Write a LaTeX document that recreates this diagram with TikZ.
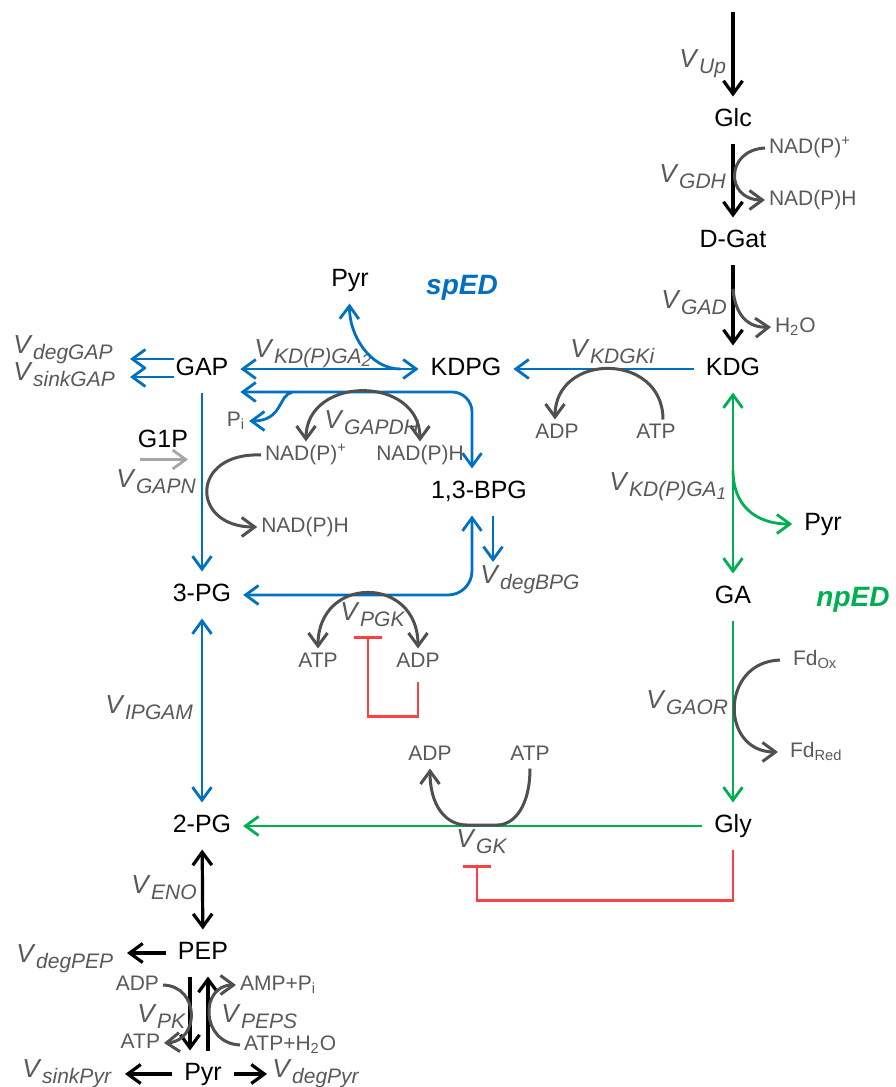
\documentclass[tikz,border=0pt]{standalone}
\usepackage{fontspec}
\setmainfont{Liberation Sans}
\usetikzlibrary{arrows.meta,calc}

\definecolor{edblue}{RGB}{0,112,192}
\definecolor{edgreen}{RGB}{0,176,80}
\definecolor{inhred}{RGB}{255,64,64}
\definecolor{labgray}{RGB}{89,89,89}
\definecolor{arcgray}{RGB}{80,80,80}
\definecolor{ligray}{RGB}{166,166,166}

\newcommand{\vrate}[1]{\textit{V}\kern0.2pt\raisebox{-3pt}{\fontsize{10.5}{12}\selectfont\itshape #1}}
\newcommand{\subnum}[1]{\raisebox{-1.5pt}{\fontsize{8.5}{9}\selectfont #1}}

\begin{document}
\begin{tikzpicture}[
x=0.5pt, y=-0.5pt,
species/.style={font=\fontsize{12.5}{14}\selectfont, text height=9pt, text depth=2.5pt, inner sep=0pt, outer sep=6pt},
cofac/.style={font=\fontsize{10.5}{12}\selectfont, text=labgray, text height=7.5pt, text depth=2pt, inner sep=0pt, outer sep=2pt},
rate/.style={font=\fontsize{13}{14}\selectfont, text=labgray, inner sep=0pt, anchor=base west},
pathname/.style={font=\fontsize{14}{16}\selectfont\bfseries\itshape},
onehead/.style={-{Straight Barb[length=6.5pt,width=9.5pt]}},
twohead/.style={{Straight Barb[length=6.5pt,width=9.5pt]}-{Straight Barb[length=6.5pt,width=9.5pt]}},
blk/.style={line width=1.6pt, black},
blu/.style={line width=1.4pt, edblue},
grn/.style={line width=1.4pt, edgreen},
lgry/.style={line width=1.4pt, ligray},
cof/.style={line width=1.5pt, arcgray},
inh/.style={line width=1.4pt, inhred, -{Bar[width=14pt]}}
]
\useasboundingbox (0,0) rectangle (895,1087);

\node[species] (glc) at (733,120) {Glc};
\node[species] (dgat) at (733,241) {D-Gat};
\node[species] (kdg) at (733,369) {KDG};
\node[species] (ga) at (733,597) {GA};
\node[species] (gly) at (733,826) {Gly};
\node[species] (pyrnp) at (823,524) {Pyr};
\node[species] (kdpg) at (466,369) {KDPG};
\node[species] (pyrsp) at (350,280) {Pyr};
\node[species] (gap) at (202,369) {GAP};
\node[species] (bpg) at (479,492) {1,3-BPG};
\node[species] (pg3) at (202,595) {3-PG};
\node[species] (pg2) at (202,826) {2-PG};
\node[species] (pep) at (203,953) {PEP};
\node[species] (pyr) at (203,1074) {Pyr};
\node[species] (g1p) at (163,441) {G1P};

\node[pathname, text=edblue] (sped) at (462,288) {spED};
\node[pathname, text=edgreen] (nped) at (853,600) {npED};

\node[cofac, anchor=west] (nadpG) at (765,148) {NAD(P)\textsuperscript{+}};
\node[cofac, anchor=west] (nadphG) at (765,200) {NAD(P)H};
\node[cofac, anchor=west] (h2o) at (771,327) {H\textsubscript{2}O};
\node[cofac] (adpK) at (557,433) {ADP};
\node[cofac] (atpK) at (656,433) {ATP};
\node[cofac] (pi) at (236,421) {P\textsubscript{i}};
\node[cofac] (nadpM) at (306,455) {NAD(P)\textsuperscript{+}};
\node[cofac] (nadphM) at (420,455) {NAD(P)H};
\node[cofac] (nadphN) at (305,527) {NAD(P)H};
\node[cofac] (atpP) at (318,662) {ATP};
\node[cofac] (adpP) at (418,662) {ADP};
\node[cofac] (adpG) at (430,755) {ADP};
\node[cofac] (atpG) at (530,755) {ATP};
\node[cofac, anchor=west] (fdox) at (789,660) {Fd\textsubscript{Ox}};
\node[cofac, anchor=west] (fdred) at (786,752) {Fd\textsubscript{Red}};
\node[cofac, anchor=east] (adpPK) at (163,985) {ADP};
\node[cofac, anchor=east] (atpPK) at (164,1043) {ATP};
\node[cofac, anchor=west] (ampPEPS) at (236,985) {AMP+P\textsubscript{i}};
\node[cofac, anchor=west] (atpPEPS) at (240,1045) {ATP+H\textsubscript{2}O};

\node[rate] (vup) at (679,67) {\vrate{Up}};
\node[rate] (vgdh) at (659,182) {\vrate{GDH}};
\node[rate] (vgad) at (661,308) {\vrate{GAD}};
\node[rate] (vkdgk) at (570,357) {\vrate{KDGKi}};
\node[rate] (vkdga1) at (609,490) {\vrate{KD(P)GA\subnum{1}}};
\node[rate] (vkdga2) at (254,357) {\vrate{KD(P)GA\subnum{2}}};
\node[rate] (vgapdh) at (324,428) {\vrate{GAPDH}};
\node[rate] (vdeggap) at (13,353) {\vrate{degGAP}};
\node[rate] (vsinkgap) at (13,380) {\vrate{sinkGAP}};
\node[rate] (vgapn) at (116,487) {\vrate{GAPN}};
\node[rate] (vdegbpg) at (480,583) {\vrate{degBPG}};
\node[rate] (vpgk) at (340,620) {\vrate{PGK}};
\node[rate] (vipgam) at (105,713) {\vrate{IPGAM}};
\node[rate] (vgaor) at (646,708) {\vrate{GAOR}};
\node[rate] (vgk) at (456,847) {\vrate{GK}};
\node[rate] (veno) at (131,893) {\vrate{ENO}};
\node[rate] (vdegpep) at (16,962) {\vrate{degPEP}};
\node[rate] (vpk) at (137,1022) {\vrate{PK}};
\node[rate] (vpeps) at (221,1022) {\vrate{PEPS}};
\node[rate] (vsinkpyr) at (22,1077) {\vrate{sinkPyr}};
\node[rate] (vdegpyr) at (272,1077) {\vrate{degPyr}};

\coordinate (glcin) at (733,12);
\coordinate (deggap) at (130,359);
\coordinate (sinkgap) at (130,377);
\coordinate (degbpg) at (493,562);
\coordinate (degpep) at (127,953);
\coordinate (sinkpyr) at (125,1074);
\coordinate (degpyr) at (267,1074);
\coordinate (pgkbar) at (368,636);
\coordinate (gkbar) at (477,865);

\draw[blk,onehead] (glcin) -- (glc);
\draw[blk,onehead] (glc) -- (dgat);
\draw[blk,onehead] (dgat) -- (kdg);
\draw[blu,onehead] (kdg) -- (kdpg);
\draw[blu,twohead] (gap) -- (kdpg);
\draw[grn,twohead] (kdg) -- (ga);
\draw[grn,onehead] (ga) -- (gly);
\draw[grn,onehead] (gly) -- (pg2);
\draw[blu,onehead] (gap) -- (pg3);
\draw[blu,twohead] (pg3) -- (pg2);
\draw[blk,twohead] (pg2) -- (pep);
\draw[blk,onehead] ($(pep.south)+(-13,0)$) -- ($(pyr.north)+(-13,0)$);
\draw[blk,onehead] ($(pyr.north)+(5,0)$) -- ($(pep.south)+(5,0)$);
\draw[blu,onehead] ($(gap.west)+(10,-10)$) -- (deggap);
\draw[blu,onehead] ($(gap.west)+(10,8)$) -- (sinkgap);
\draw[blk,onehead] (pep) -- (degpep);
\draw[blk,onehead] (pyr) -- (sinkpyr);
\draw[blk,onehead] (pyr) -- (degpyr);
\draw[lgry,onehead] ($(g1p.south)+(-23,-5)$) -- ($(g1p.south)+(25,-5)$);

\draw[blu,twohead,rounded corners=10pt] ($(gap.east)+(0,23)$) -| ($(bpg.north)+(-7,0)$);
\draw[blu,twohead,rounded corners=12pt] ($(bpg.south)+(-7,0)$) |- (pg3);
\draw[blu,onehead] ($(bpg.south)+(14,0)$) -- (degbpg);
\draw[blu,onehead] ($(gap.east)+(52,23)$) .. controls (278,395) and (283,421) .. (pi.east);
\draw[blu,onehead] ($(kdpg.west)+(-18,0)$) .. controls (370,369) and (349,335) .. (pyrsp);
\draw[grn,onehead] ($(kdg.south)!0.43!(ga.north)$) .. controls (733,505) and (755,524) .. (pyrnp);

\draw[cof,onehead] (nadpG.west) .. controls (725,150) and (725,200) .. (nadphG.west);
\draw[cof,onehead] ($(dgat.south)!0.3!(kdg.north)$) .. controls (735,315) and (748,328) .. (h2o.west);
\draw[cof,onehead] ($(atpK.north)+(7,0)$) .. controls (663,352) and (555,352) .. ($(adpK.north)+(-2,0)$);
\draw[cof,twohead] (nadpM.north) .. controls (306,375) and (420,375) .. (nadphM.north);
\draw[cof,onehead] (nadpM.west) .. controls (190,452) and (190,527) .. (nadphN.west);
\draw[cof,twohead] (atpP.north) .. controls (318,575) and (418,575) .. (adpP.north);
\draw[cof,onehead] (atpG.south) .. controls (530,805) and (515,825) .. (497,825) -- (467,825) .. controls (445,825) and (430,805) .. (adpG.south);
\draw[cof,onehead] ($(fdox.west)+(-9,0)$) .. controls (720,662) and (720,752) .. ($(fdred.west)+(-8,0)$);
\draw[cof,onehead] (adpPK.east) .. controls (200,986) and (200,1041) .. (atpPK.east);
\draw[cof,onehead] (atpPEPS.west) .. controls (200,1043) and (200,985) .. (ampPEPS.west);

\draw[inh] ($(adpP.south)+(0,6)$) -- ($(adpP.south)+(0,41)$) -| (pgkbar);
\draw[inh] (gly.south) -- ($(gly.south)+(0,51)$) -| (gkbar);
\end{tikzpicture}
\end{document}
